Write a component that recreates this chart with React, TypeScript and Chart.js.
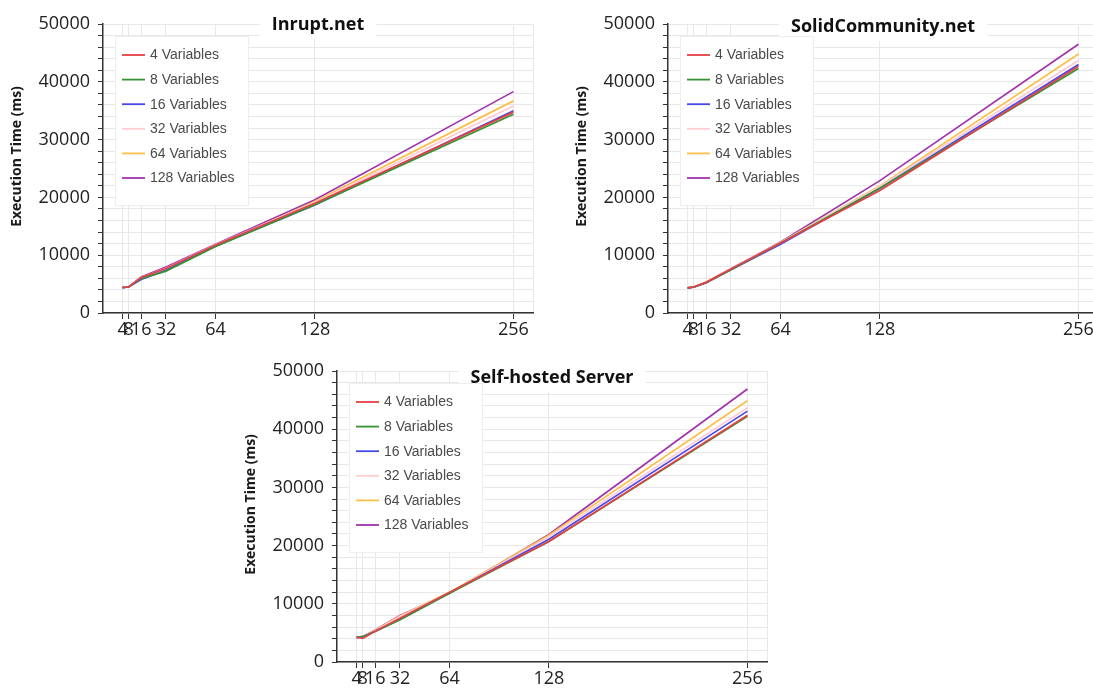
import React, { useEffect, useRef } from "react";
import Chart from "chart.js/auto";

// ---- data ----
const xValues = [4, 8, 16, 32, 64, 128, 256];
const yTickValues = [0, 2000, 4000, 6000, 8000, 10000, 12000, 14000, 16000, 18000, 20000, 22000, 24000, 26000, 28000, 30000, 32000, 34000, 36000, 38000, 40000, 42000, 44000, 46000, 48000, 50000];
const seriesLabels = ["4 Variables", "8 Variables", "16 Variables", "32 Variables", "64 Variables", "128 Variables"];
const seriesColors = ["rgb(228,64,70)", "rgb(52,148,52)", "rgb(72,72,238)", "rgb(255,204,212)", "rgb(252,190,72)", "rgb(160,52,172)"];
const yAxisTitle = "Execution Time (ms)";

const inruptV4 = [4450, 4500, 6150, 7700, 11750, 19000, 34750];
const inruptV8 = [4450, 4500, 5950, 7250, 11500, 18750, 34400];
const inruptV16 = [4400, 4500, 5800, 7400, 11600, 18700, 35000];
const inruptV32 = [4450, 4550, 6100, 7750, 11800, 19100, 35800];
const inruptV64 = [4500, 4550, 6050, 7700, 11600, 19300, 36700];
const inruptV128 = [4400, 4550, 6250, 7950, 11900, 19600, 38300];

const solidV4 = [4350, 4500, 5300, 7600, 12100, 21200, 42700];
const solidV8 = [4350, 4500, 5250, 7500, 12100, 21600, 42300];
const solidV16 = [4350, 4450, 5250, 7500, 11900, 21600, 43000];
const solidV32 = [4400, 4500, 5300, 7600, 12200, 21900, 43700];
const solidV64 = [4400, 4500, 5350, 7550, 12200, 22000, 44800];
const solidV128 = [4350, 4500, 5300, 7650, 12300, 22900, 46500];

const selfV4 = [4250, 4050, 5300, 7500, 12000, 20700, 42400];
const selfV8 = [4250, 4350, 5250, 7250, 11800, 20700, 42200];
const selfV16 = [4200, 4350, 5300, 7300, 11900, 21100, 43100];
const selfV32 = [4250, 4400, 5400, 7800, 11900, 21500, 43700];
const selfV64 = [4250, 4400, 5450, 7900, 12000, 21800, 44900];
const selfV128 = [4200, 4400, 5500, 8000, 11800, 21900, 46900];

const X_MIN = -8.6;
const X_MAX = 268.6;

type Panel = {
  title: string;
  series: number[][];
  left: number;
  top: number;
  width: number;
  height: number;
  titleDy: number;
};

const panels: Panel[] = [
  { title: "Inrupt.net", series: [inruptV4, inruptV8, inruptV16, inruptV32, inruptV64, inruptV128], left: 0, top: 0, width: 545, height: 345, titleDy: 1 },
  { title: "SolidCommunity.net", series: [solidV4, solidV8, solidV16, solidV32, solidV64, solidV128], left: 565, top: 0, width: 545, height: 345, titleDy: 3 },
  { title: "Self-hosted Server", series: [selfV4, selfV8, selfV16, selfV32, selfV64, selfV128], left: 234, top: 347, width: 545, height: 347, titleDy: 7 },
];

const tickFont = { family: "'Open Sans', 'Noto Sans', sans-serif", size: 18 };

function overlayPlugin(panel: Panel) {
  return {
    id: "overlay",
    afterDraw(chart: any) {
      const { ctx, chartArea: a } = chart;
      ctx.save();
      // title with white box
      ctx.font = "bold 18px 'Open Sans', 'Noto Sans', sans-serif";
      const tw = ctx.measureText(panel.title).width;
      const cx = (a.left + a.right) / 2;
      const ty = a.top + panel.titleDy;
      ctx.fillStyle = "#ffffff";
      ctx.fillRect(cx - tw / 2 - 12, ty - 14, tw + 24, 28);
      ctx.fillStyle = "#111111";
      ctx.textAlign = "center";
      ctx.textBaseline = "middle";
      ctx.fillText(panel.title, cx, ty);

      // legend
      const lx = a.left + 12;
      const ly = a.top + 12;
      ctx.fillStyle = "#ffffff";
      ctx.fillRect(lx, ly, 133, 169);
      ctx.strokeStyle = "#eeeeee";
      ctx.lineWidth = 1;
      ctx.strokeRect(lx + 0.5, ly + 0.5, 133, 169);
      ctx.font = "14px 'Liberation Sans', Arial, sans-serif";
      ctx.textAlign = "left";
      chart.data.datasets.forEach((ds: any, i: number) => {
        const y = a.top + 31 + i * 24.6;
        ctx.strokeStyle = ds.borderColor;
        ctx.lineWidth = 1.8;
        ctx.beginPath();
        ctx.moveTo(lx + 7, y);
        ctx.lineTo(lx + 30, y);
        ctx.stroke();
        ctx.fillStyle = "#4a4a4a";
        ctx.fillText(ds.label, lx + 35, y + 0.5);
      });

      // y axis title
      ctx.translate(a.left - 86, (a.top + a.bottom) / 2 - 12);
      ctx.rotate(-Math.PI / 2);
      ctx.font = "bold 14px 'Open Sans', 'Noto Sans', sans-serif";
      ctx.fillStyle = "#1a1a1a";
      ctx.textAlign = "center";
      ctx.fillText(yAxisTitle, 0, 0);
      ctx.restore();
    },
  };
}

function makeChart(canvas: HTMLCanvasElement, panel: Panel) {
  return new Chart(canvas, {
    type: "line",
    data: {
      datasets: panel.series.map((vals, i) => ({
        label: seriesLabels[i],
        data: xValues.map((x, j) => ({ x, y: vals[j] })),
        borderColor: seriesColors[i],
        backgroundColor: seriesColors[i],
        borderWidth: 1.7,
        pointRadius: 0,
        tension: 0,
        fill: false,
      })),
    },
    options: {
      responsive: false,
      animation: false,
      layout: { padding: { top: 24, right: 12, left: 0, bottom: 0 } },
      plugins: {
        legend: { display: false },
        title: { display: false },
        tooltip: { enabled: false },
      },
      scales: {
        x: {
          type: "linear",
          min: X_MIN,
          max: X_MAX,
          afterBuildTicks: (s: any) => {
            s.ticks = [...xValues, X_MAX].map((v) => ({ value: v }));
          },
          afterFit: (s: any) => {
            s.height = 32;
          },
          ticks: {
            autoSkip: false,
            maxRotation: 0,
            minRotation: 0,
            padding: 0,
            color: "#222222",
            font: tickFont,
            callback: (v: any) => (v === X_MAX ? "" : String(v)),
          },
          grid: {
            color: "#e8e8e8",
            lineWidth: 1,
            tickLength: 6,
            tickColor: (c: any) => (c.tick && c.tick.value === X_MAX ? "rgba(0,0,0,0)" : "#333333"),
          },
          border: { color: "#333333", width: 1.5 },
        },
        y: {
          type: "linear",
          min: 0,
          max: 50000,
          afterBuildTicks: (s: any) => {
            s.ticks = yTickValues.map((v) => ({ value: v }));
          },
          afterFit: (s: any) => {
            s.width = 103;
          },
          ticks: {
            autoSkip: false,
            padding: 8,
            color: "#222222",
            font: tickFont,
            callback: (v: any) => (v % 10000 === 0 ? String(v) : ""),
          },
          grid: { color: "#e8e8e8", lineWidth: 1, tickLength: 5, tickColor: "#333333" },
          border: { color: "#333333", width: 1.5 },
        },
      },
    } as any,
    plugins: [overlayPlugin(panel)],
  });
}

function PanelChart({ panel }: { panel: Panel }) {
  const ref = useRef<HTMLCanvasElement | null>(null);
  useEffect(() => {
    if (!ref.current) return;
    const chart = makeChart(ref.current, panel);
    return () => chart.destroy();
  }, [panel]);
  return (
    <canvas
      ref={ref}
      width={panel.width}
      height={panel.height}
      style={{ position: "absolute", left: panel.left, top: panel.top, width: panel.width, height: panel.height }}
    />
  );
}

export default function App() {
  return (
    <div
      style={{
        position: "fixed",
        left: 0,
        top: 0,
        width: 1093,
        height: 688,
        overflow: "hidden",
        background: "#ffffff",
      }}
    >
      {panels.map((p) => (
        <PanelChart key={p.title} panel={p} />
      ))}
    </div>
  );
}
